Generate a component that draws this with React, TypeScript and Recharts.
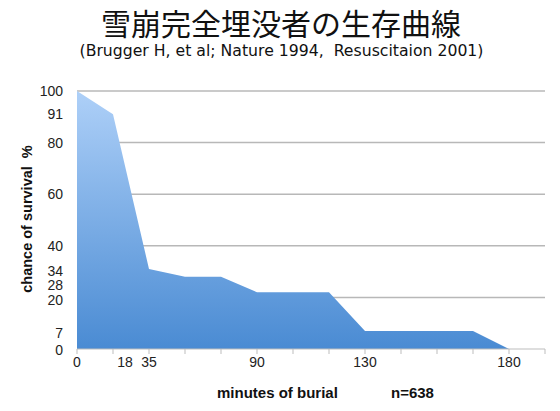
import React from "react";
import { AreaChart, Area, XAxis, YAxis, CartesianGrid } from "recharts";

// minutes of burial, one slot per category (Excel style axis)
const slotLabels = ["0", "18", "35", "", "", "90", "", "", "130", "", "", "", "180", ""];
// chance of survival %
const survival = [100, 91, 31, 28, 28, 22, 22, 22, 7, 7, 7, 7, 0, null];
const yTicks = [0, 7, 20, 28, 34, 40, 60, 80, 91, 100];
const gridValues = [20, 40, 60, 80, 100];
const yMax = 100;

const chartData = slotLabels.map((label, i) => ({ slot: i, label, survival: survival[i] }));

const FONT = "'Liberation Sans', Arial, sans-serif";

// the original has a few hand-placed labels, nudged off their tick
const yLabelNudge: Record<number, number> = { 34: 10, 28: 8, 20: 3, 7: 2, 0: 1 };
const xLabelNudge: Record<string, number> = { "18": 12 };

function YTick(props: any) {
  const { x, y, payload } = props;
  const dy = yLabelNudge[payload.value] || 0;
  return (
    <text x={x} y={y + dy} dy="0.35em" textAnchor="end" fontSize={14} fill="#222" fontFamily={FONT}>
      {payload.value}
    </text>
  );
}

function XTick(props: any) {
  const { x, y, payload } = props;
  const label = slotLabels[payload.value];
  if (!label) return null;
  const dx = xLabelNudge[label] || 0;
  return (
    <text x={x + dx} y={y} dy="0.85em" textAnchor="middle" fontSize={14} fill="#222" fontFamily={FONT}>
      {label}
    </text>
  );
}

function gridLine(props: any) {
  const { x1, x2, y1, y2, index } = props;
  return <line key={"grid-" + index} x1={x1} x2={x2} y1={y1} y2={y2} stroke="#b8b8b8" strokeWidth={1.5} />;
}

export default function App() {
  return (
    <div style={{ position: "absolute", left: 0, top: 0, width: 560, height: 411, background: "#fff" }}>
      <div
        style={{
          position: "absolute", left: 0, width: 562, top: 4, textAlign: "center",
          fontFamily: "'Noto Sans CJK JP', sans-serif", fontSize: 30, lineHeight: "36px", color: "#111",
        }}
      >
        雪崩完全埋没者の生存曲線
      </div>
      <div
        style={{
          position: "absolute", left: 0, width: 563, top: 41, textAlign: "center",
          fontFamily: "'DejaVu Sans', sans-serif", fontSize: 15.7, lineHeight: "20px", color: "#111",
        }}
      >
        (Brugger H, et al; Nature 1994,&nbsp; Resuscitaion 2001)
      </div>

      <AreaChart width={560} height={411} data={chartData} margin={{ top: 91, right: 15, bottom: 32, left: 0 }}>
        <defs>
          <linearGradient id="survivalFill" x1="0" y1="0" x2="0" y2="1">
            <stop offset="0%" stopColor="#aed0f8" />
            <stop offset="100%" stopColor="#4a8bd3" />
          </linearGradient>
        </defs>
        {/* grid only at the round values, not at every labelled tick */}
        <CartesianGrid vertical={false} horizontalValues={gridValues} horizontal={gridLine} />
        <XAxis
          dataKey="slot"
          type="category"
          height={30}
          interval={0}
          tick={<XTick />}
          tickSize={5}
          tickMargin={1}
          stroke="#bdbdbd"
        />
        <YAxis
          type="number"
          domain={[0, yMax]}
          ticks={yTicks}
          interval={0}
          width={77}
          axisLine={false}
          tickLine={false}
          tickSize={0}
          tickMargin={14}
          tick={<YTick />}
        />
        <Area
          type="linear"
          dataKey="survival"
          stroke="none"
          fill="url(#survivalFill)"
          fillOpacity={1}
          isAnimationActive={false}
        />
      </AreaChart>

      <div
        style={{
          position: "absolute", left: 27, top: 219, transform: "translate(-50%, -50%) rotate(-90deg)",
          whiteSpace: "pre", fontFamily: FONT, fontWeight: "bold", fontSize: 14.5, color: "#111",
        }}
      >
        {"chance of survival  %"}
      </div>
      <div
        style={{
          position: "absolute", left: 217, top: 384, whiteSpace: "pre",
          fontFamily: FONT, fontWeight: "bold", fontSize: 15, lineHeight: "18px", color: "#111",
        }}
      >
        minutes of burial
      </div>
      <div
        style={{
          position: "absolute", left: 391, top: 384, whiteSpace: "pre",
          fontFamily: FONT, fontWeight: "bold", fontSize: 15, lineHeight: "18px", color: "#111",
        }}
      >
        n=638
      </div>
    </div>
  );
}
